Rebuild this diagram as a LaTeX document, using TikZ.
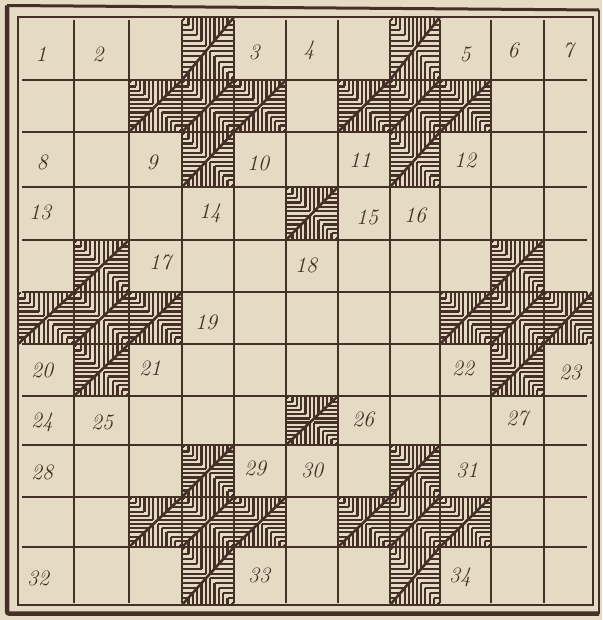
\documentclass[tikz,border=0pt]{standalone}
\usetikzlibrary{calc}
\definecolor{paper}{RGB}{229,219,196}
\definecolor{ink}{RGB}{68,48,38}

\def\colx{{18,74,129,182,234,286,338,390,440,491,544,593}}
\def\rowy{{17,80,132,187,240,292,344,396,445,497,547,605}}

\newcommand{\hatchcell}[2]{%
  \pgfmathsetmacro{\cl}{\colx[#1-1]}%
  \pgfmathsetmacro{\cw}{\colx[#1]-\cl}%
  \pgfmathsetmacro{\cb}{\rowy[#2]}%
  \pgfmathsetmacro{\ch}{\rowy[#2-1]-\cb}%
  \begin{scope}[shift={(\cl,\cb)}, xscale=\cw, yscale=\ch]
    \foreach \k in {1,...,12} {
      \pgfmathsetmacro{\hp}{(\k-0.5)/12}
      \pgfmathsetmacro{\hm}{min(\hp,1-\hp)}
      \pgfmathsetmacro{\hM}{max(\hp,1-\hp)}
      \draw[hatch] (0,\hp) -- (\hm,\hp) (\hp,\hM) -- (\hp,1)
                   (\hM,\hp) -- (1,\hp) (\hp,0) -- (\hp,\hm);
    }
    \draw[spine] (0,0) -- (1,1);
  \end{scope}%
}

\begin{document}
\begin{tikzpicture}[x=1pt, y=-1pt,
    gridline/.style={ink, line width=1.4pt},
    hatch/.style={ink, line width=2.1pt},
    spine/.style={ink, line width=2.6pt},
    num/.style={text=ink, inner sep=0pt, font=\fontsize{22}{22}\selectfont\itshape}
    ]
  \fill[paper] (0,0) rectangle (602,620);
  \useasboundingbox (0,0) rectangle (602,620);

  \foreach \c/\r in {4/1,3/2,4/2,5/2,4/3, 8/1,7/2,8/2,9/2,8/3, 6/4,
      2/5,1/6,2/6,3/6,2/7, 10/5,9/6,10/6,11/6,10/7, 6/8,
      4/9,3/10,4/10,5/10,4/11, 8/9,7/10,8/10,9/10,8/11}
    {\hatchcell{\c}{\r}}

  \foreach \x in {74,129,182,234,286,338,390,440,491,544}
    \draw[gridline] (\x,20) -- (\x,603);
  \foreach \y in {80,132,187,240,292,344,396,445,497,547}
    \draw[gridline] (22,\y) -- (587,\y);
  \draw[gridline] (18,17) rectangle (593,605);

  \coordinate (fa) at (7,5.5);
  \coordinate (fb) at (599,10);
  \coordinate (fc) at (599,613.5);
  \coordinate (fd) at (7,613.5);
  \draw[ink, line width=3pt] (fa) -- (fb);
  \draw[ink, line width=2pt] (fb) -- (fc);
  \draw[ink, line width=4.5pt, rounded corners=2pt] (fc) -- (fd) -- (fa);

  \node[num] (n1) at (41,54) {1};
  \node[num] (n2) at (98,54) {2};
  \node[num] (n3) at (254,52) {3};
  \node[num] (n4) at (309,50) {4};
  \node[num] (n5) at (465,54) {5};
  \node[num] (n6) at (513,50) {6};
  \node[num] (n7) at (568,50) {7};
  \node[num] (n8) at (42,162) {8};
  \node[num] (n9) at (152,162) {9};
  \node[num] (n10) at (258,163) {10};
  \node[num] (n11) at (360,160) {11};
  \node[num] (n12) at (465,160) {12};
  \node[num] (n13) at (40,212) {13};
  \node[num] (n14) at (210,213) {14};
  \node[num] (n15) at (367,217) {15};
  \node[num] (n16) at (415,215) {16};
  \node[num] (n17) at (160,262) {17};
  \node[num] (n18) at (306,265) {18};
  \node[num] (n19) at (206,322) {19};
  \node[num] (n20) at (42,370) {20};
  \node[num] (n21) at (150,368) {21};
  \node[num] (n22) at (463,368) {22};
  \node[num] (n23) at (570,372) {23};
  \node[num] (n24) at (42,422) {24};
  \node[num] (n25) at (102,422) {25};
  \node[num] (n26) at (363,419) {26};
  \node[num] (n27) at (517,418) {27};
  \node[num] (n28) at (42,472) {28};
  \node[num] (n29) at (255,468) {29};
  \node[num] (n30) at (312,470) {30};
  \node[num] (n31) at (467,470) {31};
  \node[num] (n32) at (38,578) {32};
  \node[num] (n33) at (259,575) {33};
  \node[num] (n34) at (460,577) {34};
\end{tikzpicture}
\end{document}
